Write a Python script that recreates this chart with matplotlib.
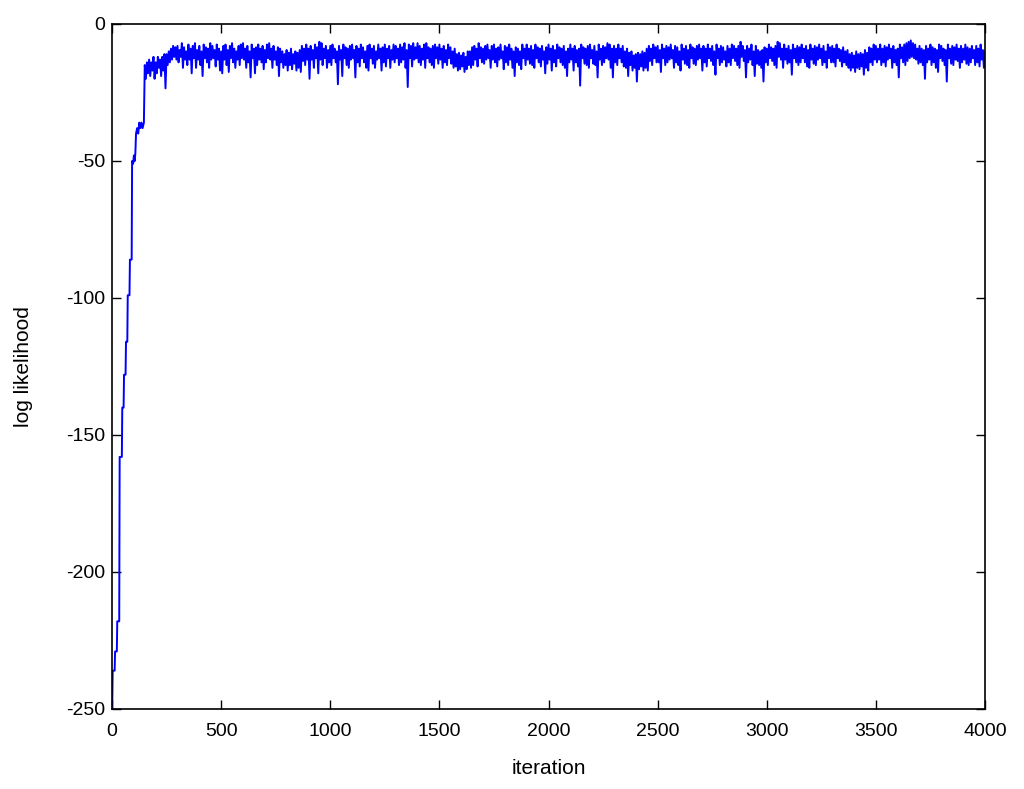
import matplotlib
matplotlib.use('Agg')
import matplotlib.pyplot as plt
import numpy as np

early_iter = [0, 3, 12, 14, 22, 24, 33, 35, 45, 47, 53, 55, 62, 64, 70, 72, 80, 82, 90, 92,
              97, 100, 104, 107, 110, 115, 120, 125, 130, 135, 140, 146,
              150, 155, 160, 165, 170, 175, 180, 185, 190, 195, 200, 205, 210, 215, 220,
              225, 230, 235, 240, 245, 250, 255, 260, 265, 270, 275, 280, 285, 290, 295]
early_ll = [-255, -236, -236, -229, -229, -218, -218, -158, -158, -140, -140, -128, -128,
            -116, -116, -99, -99, -86, -86, -50,
            -51, -48, -50, -47, -40, -38, -40, -36, -38, -36, -38, -36,
            -15, -20, -14, -18, -13, -19, -14, -17, -12, -20, -14, -18, -12, -16, -13,
            -19, -12, -17, -11, -23.5, -11, -15, -10, -14, -9, -13, -8, -12, -8.5, -13]

# stationary part: top and bottom of the trace in each 10-iteration window, 300..4000
chain_start = 300
chain_step = 10
chain_hi = [
    -8, -9.5, -7, -8.5, -10, -7.5, -9, -8, -7, -9.5, -8, -10, -7.5, -8.5, -9, -7, -8, -9.5, -7.5, -9,
    -10, -8, -7.5, -9.5, -8, -7, -9, -10, -8, -7.5, -7, -9, -8, -10, -7.5, -9, -8.5, -7.5, -9, -8,
    -9.5, -7.5, -7, -9, -8, -10, -8.5, -9, -10, -11, -9.5, -10.5, -9, -11, -10, -10.5, -9.5, -8, -9, -7.5,
    -9, -8, -9.5, -7.5, -8.5, -6.5, -7, -9, -8, -9.5, -8, -7.5, -9, -10, -8, -9.5, -7.5, -8.5, -9, -8,
    -7.5, -9.5, -8, -9, -7.5, -8.5, -10, -8, -7.5, -9, -8, -10, -7.5, -9, -8.5, -7.5, -9, -8, -9.5, -7.5,
    -8, -9, -7.5, -8.5, -7, -9.5, -7.5, -8, -7, -8.5, -7, -8, -9, -7.5, -7, -8.5, -9, -8, -7.5, -8.5,
    -7.5, -9, -8, -9.5, -7.5, -8.5, -10, -9, -11, -10.5, -11.5, -10.5, -12, -10, -10, -8.5, -8, -9, -7, -8.5,
    -9, -8, -7.5, -9.5, -8, -7.5, -9, -8.5, -7.5, -10, -8, -8.5, -7.5, -9, -10, -8.5, -9, -10, -7.5, -9,
    -7.5, -9, -8, -9.5, -7.5, -8.5, -9, -8, -10, -8.5, -7.5, -9, -8, -9.5, -7.5, -8.5, -9, -8, -10, -9,
    -7.5, -9, -8, -9.5, -9, -7.5, -8.5, -9, -8, -7.5, -9.5, -8, -10, -7.5, -9, -8, -8.5, -7, -7.5, -9,
    -8, -9, -7.5, -9, -8, -10, -9, -10.5, -10, -11.5, -11, -10.5, -11, -10, -10.5, -9, -8, -9, -7.5, -8.5,
    -8, -9.5, -7.5, -9, -8, -8.5, -7.5, -9.5, -8, -8.5, -10, -7.5, -9, -8, -9.5, -7.5, -8.5, -9, -8, -7.5,
    -9, -8, -9, -7.5, -9, -8, -10, -7.5, -9, -8, -8.5, -10, -8, -9, -7.5, -8, -9, -8, -6.5, -8,
    -9.5, -8, -9, -7.5, -10, -8, -9.5, -10, -9.5, -8.5, -9, -7.5, -8.5, -9, -8, -6.5, -7, -9, -7.5, -9,
    -8, -9.5, -7.5, -9, -8, -8.5, -7.5, -9, -8, -9.5, -7.5, -9, -8, -8.5, -7.5, -9, -8, -10, -7.5, -8.5,
    -8, -9, -7.5, -9, -9.5, -8.5, -10, -9.5, -11, -10.5, -11.5, -10, -11, -10.5, -11, -9.5, -10.5, -8.5, -9, -7.5,
    -8, -9, -7.5, -9, -8, -8.5, -7.5, -9, -8, -9.5, -9, -7.5, -8.5, -7.5, -7, -6.5, -6, -7, -7.5, -9,
    -8, -9, -9.5, -8, -9, -7.5, -8.5, -9, -9.5, -7.5, -8, -9, -9.5, -7.5, -9, -8, -8.5, -7.5, -9, -8,
    -9, -7.5, -8.5, -9, -8, -9.5, -8, -9, -7.5, -9.5, -10,
]
chain_lo = [
    -14, -12, -16, -13, -15, -13, -18, -12.5, -16, -13, -15, -19, -12.5, -14, -16, -13, -12.5, -15.5, -13, -17,
    -18, -13, -15, -17.5, -12.5, -14, -16, -13, -15, -12.5, -13, -16, -14, -19.5, -12.5, -18, -15, -13, -14, -16.5,
    -14, -12.5, -13, -16, -13, -15, -19, -14, -16, -15, -17, -15, -16.5, -14.5, -17, -16, -17.5, -13.5, -15, -13,
    -20, -13, -16, -12.5, -18, -13, -15, -12.5, -16, -14, -15, -12.5, -14, -22, -13, -19, -12.5, -15, -16, -13,
    -12.5, -19.5, -14, -15.5, -12.5, -14, -16, -17, -12.5, -14.5, -16, -13, -12.5, -17, -14, -15.5, -12.5, -16, -13, -14,
    -12.5, -15, -14, -13, -16, -23, -12.5, -15.5, -13, -12.5, -14, -15, -13, -16, -12.5, -14, -15, -16, -12.5, -14.5,
    -13, -16, -14, -15, -12.5, -14.5, -16, -15.5, -17, -16.5, -15.5, -17.5, -16.5, -15, -16, -15, -13, -15.5, -12.5, -14,
    -14.5, -13, -12.5, -16, -13, -14, -15.5, -13, -12.5, -16.5, -14, -15, -13, -16, -19, -14, -15, -16.5, -12.5, -15,
    -13, -14.5, -15, -16, -12.5, -14, -15.5, -13, -18, -14.5, -13, -17, -14, -15.5, -12.5, -14, -15, -16, -19, -14,
    -13, -17, -14, -15.5, -22.5, -12.5, -14.5, -15, -16, -12.5, -14.5, -15, -19.5, -13, -15, -14, -12.5, -13, -16, -19.5,
    -14, -15, -12.5, -14, -15.5, -16, -19, -15, -17, -16, -21, -16.5, -15.5, -17, -16, -17, -13.5, -15, -12.5, -14,
    -14, -17.5, -12.5, -15, -14, -13, -12.5, -16, -14, -15, -17, -13, -14.5, -15, -16, -12.5, -14.5, -15, -13, -12.5,
    -17, -14, -15.5, -12.5, -13.5, -15, -18.5, -12.5, -15, -14, -13, -15.5, -14, -15, -12.5, -13.5, -15, -16, -12, -13.5,
    -19.5, -14, -13, -15, -19, -14.5, -15, -16, -21, -14, -15, -12.5, -13.5, -15, -16, -12, -13, -16, -13, -14.5,
    -14, -18.5, -12.5, -14, -15, -14, -12.5, -14, -15.5, -16, -13, -14.5, -15, -13, -12.5, -15, -14, -16, -12.5, -14,
    -14, -15.5, -12.5, -13.5, -15.5, -14, -15, -16, -17, -16, -17.5, -16, -16.5, -15.5, -18.5, -16, -17, -14, -15, -13,
    -14, -13, -15, -14, -15.5, -13, -12.5, -16, -14, -15, -19.5, -12.5, -14, -15, -13.5, -12.5, -12, -12.5, -13, -14.5,
    -14, -15, -20, -14, -13, -15, -14, -16, -17.5, -12.5, -13.5, -15, -21, -12.5, -14.5, -15, -13, -13.5, -16, -14,
    -13, -14.5, -15, -14, -12.5, -15, -14, -15.5, -13, -16, -13,
]

x_ticks = [0, 500, 1000, 1500, 2000, 2500, 3000, 3500, 4000]
y_ticks = [-250, -200, -150, -100, -50, 0]


def main():
    plt.rcParams['font.family'] = ['Liberation Sans', 'DejaVu Sans']
    plt.rcParams['axes.unicode_minus'] = False
    plt.rcParams['path.simplify'] = False

    # the trace swings top -> bottom inside every window
    win_iter, win_ll = [], []
    for i, (hi, lo) in enumerate(zip(chain_hi, chain_lo)):
        start = chain_start + chain_step * i
        win_iter += [start, start + chain_step / 2]
        win_ll += [hi, lo]
    iters = np.concatenate([early_iter, win_iter])
    ll = np.concatenate([early_ll, win_ll])

    fig = plt.figure(figsize=(10.24, 7.89), dpi=100)
    ax = fig.add_axes([0.1094, 0.1014, 0.8525, 0.8682])
    ax.plot(iters, ll, '-', color='#0000ff', linewidth=1.4)

    ax.set_xlim(0, 4000)
    ax.set_ylim(-250, 0)
    ax.set_xticks(x_ticks)
    ax.set_yticks(y_ticks)
    ax.tick_params(direction='in', length=6.5, width=1, top=True, right=True,
                   labelsize=14, colors='black')
    ax.tick_params(axis='x', pad=10)
    ax.tick_params(axis='y', pad=5)
    for sp in ax.spines.values():
        sp.set_linewidth(1.2)
        sp.set_color('black')

    ax.set_xlabel('iteration', fontsize=15, labelpad=14)
    ax.set_ylabel('log likelihood', fontsize=15, labelpad=24)

    fig.savefig('out.png', dpi=100, facecolor='white')


if __name__ == '__main__':
    main()
